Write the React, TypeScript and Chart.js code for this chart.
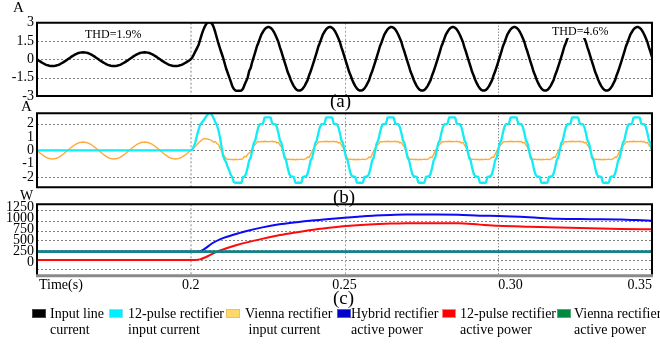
import React, { useEffect, useRef } from 'react';
import { Chart, registerables } from 'chart.js';

Chart.register(...registerables);

const FONT = '"Liberation Serif", "Times New Roman", Times, serif';

// ---------------- data ----------------
const T_START = 0.15;
const T_END = 0.35;
const T_STEP = 0.0005; // waveforms read every 0.5 ms
const PRE_SAMPLES = 100; // 0.150 s .. 0.1995 s (before the step)
const STEADY_SAMPLES = 261; // 0.220 s .. 0.350 s

// one 20 ms period before the step, starting at 0.15 s
const BLACK_PRE = [
  0, -0.09, -0.17, -0.25, -0.32, -0.39, -0.45, -0.49, -0.52, -0.54, -0.55, -0.54, -0.52, -0.49, -0.45, -0.39, -0.32, -0.25, -0.17, -0.09,
  0, 0.09, 0.18, 0.26, 0.34, 0.41, 0.47, 0.52, 0.55, 0.57, 0.58, 0.57, 0.55, 0.52, 0.47, 0.41, 0.34, 0.26, 0.18, 0.09,
];
const CYAN_PRE = [
  0, 0, 0, 0, 0, 0, 0, 0, 0, 0, 0, 0, 0, 0, 0, 0, 0, 0, 0, 0,
  0, 0, 0, 0, 0, 0, 0, 0, 0, 0, 0, 0, 0, 0, 0, 0, 0, 0, 0, 0,
];
const ORANGE_PRE = [
  0, -0.1, -0.2, -0.3, -0.38, -0.46, -0.53, -0.58, -0.62, -0.64, -0.65, -0.64, -0.62, -0.58, -0.53, -0.46, -0.38, -0.3, -0.2, -0.1,
  0, 0.1, 0.19, 0.28, 0.36, 0.44, 0.5, 0.55, 0.59, 0.61, 0.62, 0.61, 0.59, 0.55, 0.5, 0.44, 0.36, 0.28, 0.19, 0.1,
];

// first period after the step (0.200 s .. 0.2195 s)
const BLACK_FIRST = [
  0.02, 0.15, 0.4, 0.65, 0.9, 1.15, 1.55, 1.98, 2.35, 2.65, 2.88, 3.0, 3.05, 3.0, 2.9, 2.6, 2.2, 1.75, 1.3, 0.9,
  0.52, 0.15, -0.3, -0.75, -1.1, -1.45, -1.8, -2.2, -2.42, -2.55, -2.57, -2.58, -2.57, -2.55, -2.4, -2.08, -1.8, -1.5, -0.95, -0.7,
];
const CYAN_FIRST = [
  0.02, 0.05, 0.3, 0.6, 1.1, 1.5, 1.9, 2.05, 2.2, 2.35, 2.55, 2.7, 2.8, 2.8, 2.6, 2.4, 2.1, 1.9, 1.5, 1.0,
  0.27, -0.4, -0.7, -0.9, -1.25, -1.5, -1.85, -2.0, -2.4, -2.44, -2.44, -2.44, -2.44, -2.44, -2.0, -1.97, -1.75, -1.3, -0.75, -0.55,
];
const ORANGE_FIRST = [
  0, 0.1, 0.2, 0.3, 0.42, 0.55, 0.65, 0.75, 0.85, 0.88, 0.86, 0.85, 0.8, 0.78, 0.7, 0.6, 0.65, 0.5, 0.45, 0.15,
  -0.05, -0.25, -0.45, -0.62, -0.7, -0.66, -0.7, -0.68, -0.71, -0.67, -0.69, -0.7, -0.66, -0.69, -0.6, -0.45, -0.5, -0.3, -0.2, -0.1,
];

// steady-state period (from 0.22 s on)
const BLACK_STEADY = [
  -0.2, 0.21, 0.62, 1.05, 1.36, 1.72, 2.05, 2.26, 2.45, 2.58, 2.64, 2.64, 2.58, 2.45, 2.26, 2.01, 1.72, 1.42, 0.98, 0.62,
  0.21, -0.2, -0.6, -1.02, -1.32, -1.67, -1.95, -2.19, -2.37, -2.5, -2.56, -2.56, -2.5, -2.37, -2.19, -1.95, -1.7, -1.3, -0.98, -0.6,
];
const CYAN_STEADY = [
  0, 0.55, 0.75, 1.3, 1.75, 1.97, 1.97, 2.0, 2.46, 2.48, 2.48, 2.48, 2.46, 2.0, 1.97, 1.97, 1.75, 1.3, 0.75, 0.55,
  0, -0.55, -0.75, -1.3, -1.75, -1.97, -1.97, -2.0, -2.42, -2.44, -2.44, -2.44, -2.42, -2.0, -1.97, -1.97, -1.75, -1.3, -0.75, -0.55,
];
const ORANGE_STEADY = [
  0.15, 0.35, 0.45, 0.62, 0.65, 0.63, 0.67, 0.64, 0.68, 0.66, 0.64, 0.67, 0.65, 0.68, 0.63, 0.66, 0.55, 0.6, 0.4, 0.25,
  -0.1, -0.4, -0.62, -0.68, -0.66, -0.7, -0.67, -0.69, -0.71, -0.67, -0.7, -0.68, -0.66, -0.7, -0.67, -0.62, -0.5, -0.55, -0.3, -0.05,
];

// active power (W)
const HYBRID_T = [0.15, 0.2025, 0.204, 0.207, 0.2095, 0.2124, 0.2155, 0.2179, 0.2233, 0.2288, 0.2342, 0.2386, 0.245, 0.25, 0.255, 0.26, 0.265, 0.27, 0.28, 0.287, 0.294, 0.3, 0.31, 0.319, 0.33, 0.34, 0.345, 0.35];
const HYBRID_W = [250, 250, 290, 440, 530, 600, 665, 712, 800, 868, 915, 950, 990, 1020, 1045, 1068, 1082, 1090, 1092, 1088, 1065, 1058, 1030, 995, 985, 978, 965, 951];
const PULSE12_T = [0.15, 0.2, 0.2015, 0.203, 0.205, 0.207, 0.2085, 0.2105, 0.2124, 0.215, 0.2179, 0.2235, 0.229, 0.2345, 0.2386, 0.245, 0.2506, 0.258, 0.265, 0.27, 0.28, 0.287, 0.294, 0.3, 0.31, 0.32, 0.33, 0.34, 0.35];
const PULSE12_W = [60, 60, 62, 75, 130, 200, 250, 300, 345, 400, 455, 545, 625, 690, 735, 790, 830, 865, 885, 892, 895, 892, 862, 838, 815, 795, 780, 765, 756];
const VIENNA_T = [0.15, 0.35];
const VIENNA_W = [250, 250];

// axes
const A_TICKS = [3, 1.5, 0, -1.5, -3];
const B_TICKS = [2, 1, 0, -1, -2];
const C_TICKS = [1250, 1000, 750, 500, 250, 0];
const A_GRID = [1.5, 0, -1.5];
const B_GRID = [2, 0, -2];
const C_GRID = [1195, 950, 725, 515, 290, 60, -150];
const X_GRID = [0.2, 0.25, 0.3];
const X_TICKS = [0.2, 0.25, 0.3, 0.35];
const X_TICK_LABELS = ['0.2', '0.25', '0.30', '0.35'];
const X_TITLE = 'Time(s)';

const LEGEND_LINE1 = ['Input line', '12-pulse rectifier', 'Vienna rectifier', 'Hybrid rectifier', '12-pulse rectifier', 'Vienna rectifier'];
const LEGEND_LINE2 = ['current', 'input current', ' input current', 'active power', 'active power', 'active power'];

// ---------------- styles ----------------
const LEGEND_COLORS = ['#000000', '#00F0FF', '#FFD966', '#0000C8', '#FF0000', '#00883E'];
const LEGEND_BORDERS = ['#444444', '#7fdfff', '#f0c060', '#5555dd', '#ff8080', '#55aa77'];
const LEGEND_BOX_X = [32, 109, 226, 337, 442, 557];
const LEGEND_TEXT_X = [50, 128, 245, 351, 460, 574];
const X_TICK_ALIGN: CanvasTextAlign[] = ['center', 'center', 'left', 'right'];
const X_GRID_STYLE = [
  { color: '#c2c2c2', width: 2, dash: [2, 2] },
  { color: '#a0a0a0', width: 1, dash: [2, 2] },
  { color: '#5a5a5a', width: 1, dash: [1, 2] },
];

function buildWave(pre: number[], first: number[], steady: number[]) {
  const ys: number[] = [];
  for (let i = 0; i < PRE_SAMPLES; i++) ys.push(pre[i % pre.length]);
  for (const v of first) ys.push(v);
  for (let i = 0; i < STEADY_SAMPLES; i++) ys.push(steady[i % steady.length]);
  return ys.map((y, i) => ({ x: T_START + i * T_STEP, y }));
}
function zip(ts: number[], ws: number[]) {
  return ts.map((t, i) => ({ x: t, y: ws[i] }));
}

type PanelCfg = {
  padTop: number;
  padBottom: number;
  yMin: number;
  yMax: number;
  yTicks: number[];
  hGrid: number[];
  xLabels?: boolean;
  grayBottom?: boolean;
};

function panelPlugin(cfg: PanelCfg) {
  return {
    id: 'panelDeco',
    beforeDatasetsDraw(chart: any) {
      const { ctx, chartArea: a, scales } = chart;
      const x = scales.x;
      const y = scales.y;
      ctx.save();
      ctx.lineWidth = 1;
      ctx.strokeStyle = '#808080';
      ctx.setLineDash([2, 2]);
      for (const v of cfg.hGrid) {
        const py = Math.round(y.getPixelForValue(v)) + 0.5;
        ctx.beginPath();
        ctx.moveTo(a.left, py);
        ctx.lineTo(a.right, py);
        ctx.stroke();
      }
      X_GRID.forEach((v, i) => {
        const st = X_GRID_STYLE[i];
        const px = Math.round(x.getPixelForValue(v)) + (st.width % 2 ? 0.5 : 0);
        ctx.strokeStyle = st.color;
        ctx.lineWidth = st.width;
        ctx.setLineDash(st.dash);
        ctx.beginPath();
        ctx.moveTo(px, a.top);
        ctx.lineTo(px, a.bottom);
        ctx.stroke();
      });
      ctx.restore();
    },
    afterDatasetsDraw(chart: any) {
      const { ctx, chartArea: a } = chart;
      ctx.save();
      ctx.setLineDash([]);
      ctx.strokeStyle = '#000';
      ctx.lineWidth = 2;
      ctx.beginPath();
      if (cfg.grayBottom) {
        ctx.moveTo(a.left, a.bottom);
        ctx.lineTo(a.left, a.top);
        ctx.lineTo(a.right, a.top);
        ctx.lineTo(a.right, a.bottom);
        ctx.stroke();
        ctx.strokeStyle = '#8a8a8a';
        ctx.lineWidth = 3;
        ctx.beginPath();
        ctx.moveTo(a.left - 1, a.bottom);
        ctx.lineTo(a.right + 1, a.bottom);
        ctx.stroke();
      } else {
        ctx.rect(a.left, a.top, a.right - a.left, a.bottom - a.top);
        ctx.stroke();
      }
      ctx.restore();
    },
    afterDraw(chart: any) {
      if (!cfg.xLabels) return;
      const { ctx, chartArea: a, scales } = chart;
      ctx.save();
      ctx.fillStyle = '#000';
      ctx.font = `14px ${FONT}`;
      ctx.textBaseline = 'middle';
      const ty = a.bottom + 9.5;
      ctx.textAlign = 'left';
      ctx.fillText(X_TITLE, a.left + 2, ty);
      X_TICKS.forEach((v, i) => {
        ctx.textAlign = X_TICK_ALIGN[i];
        ctx.fillText(X_TICK_LABELS[i], scales.x.getPixelForValue(v), ty);
      });
      ctx.restore();
    },
  };
}

function makeConfig(cfg: PanelCfg, datasets: any[]) {
  return {
    type: 'line' as const,
    data: { datasets },
    options: {
      responsive: false,
      animation: false as const,
      events: [],
      layout: { padding: { left: 0, right: 8, top: cfg.padTop, bottom: cfg.padBottom } },
      plugins: { legend: { display: false }, tooltip: { enabled: false } },
      elements: { point: { radius: 0 }, line: { tension: 0, borderJoinStyle: 'round' as const } },
      scales: {
        x: { type: 'linear' as const, display: false, min: T_START, max: T_END },
        y: {
          type: 'linear' as const,
          min: cfg.yMin,
          max: cfg.yMax,
          afterBuildTicks: (s: any) => {
            s.ticks = cfg.yTicks.map((v) => ({ value: v }));
          },
          afterFit: (s: any) => {
            s.width = 37;
          },
          grid: { display: false, drawTicks: false },
          border: { display: false },
          ticks: {
            autoSkip: false,
            padding: 3,
            color: '#000',
            font: { family: FONT, size: 14 },
            callback: (v: any) => String(v),
          },
        },
      },
    },
    plugins: [panelPlugin(cfg)],
  };
}

const PANEL_A = { top: 0, height: 110 };
const PANEL_B = { top: 100, height: 100 };
const PANEL_C = { top: 190, height: 155 };

export default function App() {
  const refA = useRef<HTMLCanvasElement>(null);
  const refB = useRef<HTMLCanvasElement>(null);
  const refC = useRef<HTMLCanvasElement>(null);

  useEffect(() => {
    Chart.defaults.font.family = FONT;
    const black = buildWave(BLACK_PRE, BLACK_FIRST, BLACK_STEADY);
    const cyan = buildWave(CYAN_PRE, CYAN_FIRST, CYAN_STEADY);
    const orange = buildWave(ORANGE_PRE, ORANGE_FIRST, ORANGE_STEADY);

    const chartA = new Chart(
      refA.current as HTMLCanvasElement,
      makeConfig(
        { padTop: 22.7, padBottom: PANEL_A.height - 96, yMin: -3, yMax: 3, yTicks: A_TICKS, hGrid: A_GRID },
        [{ data: black, borderColor: '#000000', borderWidth: 2.5 }]
      ) as any
    );
    const chartB = new Chart(
      refB.current as HTMLCanvasElement,
      makeConfig(
        { padTop: 113.3 - PANEL_B.top, padBottom: PANEL_B.top + PANEL_B.height - 187.3, yMin: -2.78, yMax: 2.78, yTicks: B_TICKS, hGrid: B_GRID },
        [
          { data: cyan, borderColor: '#12ECF4', borderWidth: 2.3 },
          { data: orange, borderColor: '#FFAA3C', borderWidth: 1.4 },
        ]
      ) as any
    );
    const chartC = new Chart(
      refC.current as HTMLCanvasElement,
      makeConfig(
        { padTop: 204.3 - PANEL_C.top, padBottom: PANEL_C.top + PANEL_C.height - 275.7, yMin: -294, yMax: 1322, yTicks: C_TICKS, hGrid: C_GRID, xLabels: true, grayBottom: true },
        [
          { data: zip(VIENNA_T, VIENNA_W), borderColor: '#13838A', borderWidth: 2.6 },
          { data: zip(HYBRID_T, HYBRID_W), borderColor: '#0A0AF5', borderWidth: 2, cubicInterpolationMode: 'monotone' },
          { data: zip(PULSE12_T, PULSE12_W), borderColor: '#FF0A0A', borderWidth: 2, cubicInterpolationMode: 'monotone' },
        ]
      ) as any
    );
    return () => {
      chartA.destroy();
      chartB.destroy();
      chartC.destroy();
    };
  }, []);

  const canvasStyle = (p: { top: number; height: number }): React.CSSProperties => ({
    position: 'absolute',
    left: 0,
    top: p.top,
    width: 660,
    height: p.height,
  });
  const txt = (left: number, top: number, size: number, extra: React.CSSProperties = {}): React.CSSProperties => ({
    position: 'absolute',
    left,
    top,
    fontSize: size,
    lineHeight: `${size}px`,
    whiteSpace: 'pre',
    color: '#000',
    ...extra,
  });

  return (
    <div
      style={{
        position: 'absolute',
        left: 0,
        top: 0,
        width: 660,
        height: 345,
        overflow: 'hidden',
        background: '#fff',
        fontFamily: FONT,
      }}
    >
      <canvas ref={refA} width={660} height={PANEL_A.height} style={canvasStyle(PANEL_A)} />
      <canvas ref={refB} width={660} height={PANEL_B.height} style={canvasStyle(PANEL_B)} />
      <canvas ref={refC} width={660} height={PANEL_C.height} style={canvasStyle(PANEL_C)} />

      <div style={txt(13, -0.5, 15)}>A</div>
      <div style={txt(21, 98.5, 15)}>A</div>
      <div style={txt(20, 189, 14)}>W</div>

      <div style={txt(85, 28, 12)}>THD=1.9%</div>
      <div
        style={{
          position: 'absolute',
          left: 549,
          top: 24,
          width: 58,
          height: 14,
          background: '#fff',
          fontSize: 12,
          lineHeight: '14px',
          paddingLeft: 3,
          boxSizing: 'border-box',
          whiteSpace: 'pre',
        }}
      >
        THD=4.6%
      </div>

      <div style={txt(330, 90.5, 19)}>(a)</div>
      <div style={txt(333, 186.6, 19)}>(b)</div>
      <div style={txt(333, 288, 19)}>(c)</div>

      {LEGEND_LINE1.map((l1, i) => (
        <React.Fragment key={i}>
          <div
            style={{
              position: 'absolute',
              left: LEGEND_BOX_X[i],
              top: 309,
              width: 14,
              height: 9,
              background: LEGEND_COLORS[i],
              border: `1px solid ${LEGEND_BORDERS[i]}`,
              boxSizing: 'border-box',
            }}
          />
          <div
            style={{
              position: 'absolute',
              left: LEGEND_TEXT_X[i],
              top: 306.3,
              fontSize: 14,
              lineHeight: '16px',
              whiteSpace: 'pre',
              color: '#000',
            }}
          >
            {l1}
            {'\n'}
            {LEGEND_LINE2[i]}
          </div>
        </React.Fragment>
      ))}
    </div>
  );
}
